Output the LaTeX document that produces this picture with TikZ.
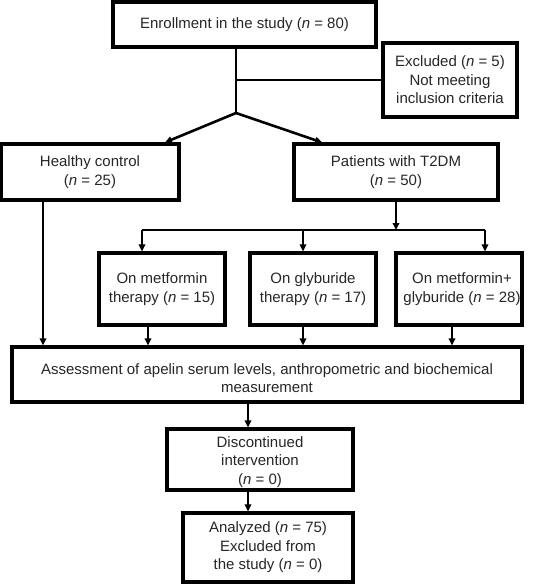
\documentclass[tikz,border=0pt]{standalone}
\usepackage{fontspec}
\setmainfont{Liberation Sans}
\usetikzlibrary{arrows.meta,calc}
\begin{document}
\begin{tikzpicture}[x=1pt,y=-1pt,
  txt/.style={align=center,text=black!85,font=\fontsize{15}{18.5}\selectfont},
  box/.style={txt,draw=black,line width=3.2pt,inner sep=0pt},
  ln/.style={line width=2.6pt},
  arr/.style={ln,-{Triangle[length=7pt,width=6.5pt]}}]
\useasboundingbox (0,0) rectangle (541,584);
\node[box,minimum width=263pt,minimum height=45pt] (enr) at (244.5,24.5) {Enrollment in the study (\textit{n} = 80)};
\node[box,minimum width=134pt,minimum height=74pt] (exc) at (450,80) {Excluded (\textit{n} = 5)\\Not meeting\\inclusion criteria};
\node[box,minimum width=178pt,minimum height=56pt] (hc) at (90,172) {Healthy control\\(\textit{n} = 25)};
\node[box,minimum width=204pt,minimum height=56pt] (pt) at (396,172) {Patients with T2DM\\(\textit{n} = 50)};
\node[box,minimum width=126pt,minimum height=72pt] (met) at (162,289) {On metformin\\therapy (\textit{n} = 15)};
\node[box,minimum width=126pt,minimum height=72pt] (gly) at (313,289) {On glyburide\\therapy (\textit{n} = 17)};
\node[draw=black,line width=3.2pt,inner sep=0pt,minimum width=126pt,minimum height=72pt] (com) at (459,289) {};
\node[txt,inner sep=0pt] (comt) at (462,289) {On metformin+\\glyburide (\textit{n} = 28)};
\node[box,minimum width=510pt,minimum height=55pt] (as) at (267,374.5) {};
\node[txt,inner sep=0pt] (ast) at (267,378) {Assessment of apelin serum levels, anthropometric and biochemical\\measurement};
\node[box,minimum width=186pt,minimum height=61pt] (dis) at (260,459.5) {};
\node[txt,inner sep=0pt] (dist) at (260,462) {Discontinued\\intervention\\(\textit{n} = 0)};
\node[box,minimum width=170pt,minimum height=69pt] (ana) at (268,547.5) {Analyzed (\textit{n} = 75)\\Excluded from\\the study (\textit{n} = 0)};
\coordinate (split) at (236,113);
\coordinate (join) at (236,80);
\coordinate (br) at (396,230);
\coordinate (hcA) at (165,0);
\coordinate (ptA) at (322,0);
\coordinate (hcB) at (43,0);
\coordinate (b1) at (142,230);
\coordinate (b2) at (303,230);
\coordinate (b3) at (485,230);
\coordinate (m1) at (148,0);
\coordinate (m2) at (303,0);
\coordinate (m3) at (452,0);
\coordinate (c1) at (248,0);
\draw[ln] (enr.south -| split) -- (split);
\draw[ln] (join) -- (exc.west |- join);
\draw[arr] (split) -- (hc.north -| hcA);
\draw[arr] (split) -- (pt.north -| ptA);
\draw[arr] (hc.south -| hcB) -- (as.north -| hcB);
\draw[arr] (pt.south) -- (br);
\draw[ln] (b1) -- (b3);
\draw[arr] (b1) -- (met.north -| b1);
\draw[arr] (b2) -- (gly.north -| b2);
\draw[arr] (b3) -- (com.north -| b3);
\draw[arr] (met.south -| m1) -- (as.north -| m1);
\draw[arr] (gly.south -| m2) -- (as.north -| m2);
\draw[arr] (com.south -| m3) -- (as.north -| m3);
\draw[arr] (as.south -| c1) -- (dis.north -| c1);
\draw[arr] (dis.south -| c1) -- (ana.north -| c1);
\end{tikzpicture}
\end{document}
